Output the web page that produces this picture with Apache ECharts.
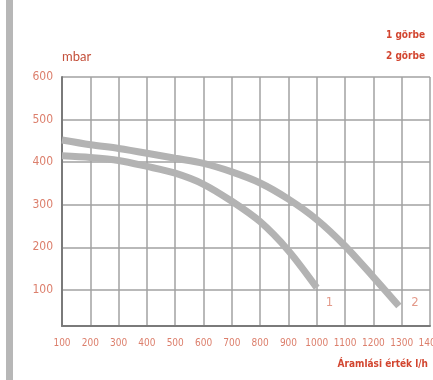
<!DOCTYPE html>
<html>
<head>
<meta charset="utf-8">
<script src="https://cdn.jsdelivr.net/npm/echarts@6/dist/echarts.min.js"></script>
<style>
  html, body { margin: 0; padding: 0; background: #fff; }
  #main { width: 433px; height: 380px; }
</style>
</head>
<body>
<div id="main"></div>
<script>
// adatok (értékek)
var flow1 = [100, 200, 300, 400, 500, 600, 700, 800, 900, 1000];
var press1 = [415, 411, 404, 390, 374, 348, 308, 260, 192, 105];
var flow2 = [100, 200, 300, 400, 500, 600, 700, 800, 900, 1000, 1100, 1200, 1290];
var press2 = [452, 441, 432, 421, 409, 397, 377, 351, 313, 265, 203, 130, 62];
var yTicks = [100, 200, 300, 400, 500, 600];
var curveNames = ['1 görbe', '2 görbe'];
var curveTags = [['1', 1045, 70], ['2', 1347, 70]];

var red = '#d2452f';
var salmon = '#dc7f6c';
var narrow = '"Liberation Sans Narrow", "DejaVu Sans Condensed", sans-serif';

function pairs(xs, ys) {
    return xs.map(function (x, i) { return [x, ys[i]]; });
}

var myChart = echarts.init(document.getElementById('main'));
var option = {
    animation: false,
    grid: { left: 62, right: 3, top: 77, bottom: 54, outerBoundsMode: 'none', containLabel: false },
    graphic: [{
        type: 'rect',
        shape: { x: 6, y: 0, width: 7, height: 380 },
        style: { fill: '#b7b7b7' }
    }],
    legend: {
        data: curveNames,
        orient: 'vertical',
        right: 3,
        top: 25,
        itemGap: 11,
        icon: 'none',
        itemWidth: 0,
        itemHeight: 0,
        textStyle: { color: red, fontSize: 10, fontWeight: 'bold', fontFamily: narrow }
    },
    xAxis: {
        type: 'value',
        min: 100,
        max: 1400,
        interval: 100,
        name: 'Áramlási érték l/h',
        nameLocation: 'end',
        nameGap: -2,
        nameTextStyle: {
            color: red, fontSize: 10, fontWeight: 'bold', fontFamily: narrow,
            align: 'right', verticalAlign: 'top', padding: [33, 0, 0, 0]
        },
        axisLine: { lineStyle: { color: '#7a7a7a', width: 2 } },
        axisTick: { show: false },
        axisLabel: {
            color: salmon, fontSize: 10, fontFamily: narrow, margin: 12,
            interval: 0, hideOverlap: false,
            formatter: function (v) { return String(v); }
        },
        splitLine: { lineStyle: { color: '#a2a2a2', width: 1.5 } }
    },
    yAxis: {
        type: 'value',
        min: 15,
        max: 600,
        name: 'mbar',
        nameLocation: 'end',
        nameGap: 14,
        nameTextStyle: { color: '#c4513c', fontSize: 13, align: 'left', fontFamily: 'Lato, sans-serif' },
        axisLine: { show: true, lineStyle: { color: '#7a7a7a', width: 2 } },
        axisTick: { show: false, customValues: yTicks },
        axisLabel: { color: salmon, fontSize: 12, fontFamily: narrow, margin: 9, customValues: yTicks },
        splitLine: { lineStyle: { color: '#a2a2a2', width: 1.5 } }
    },
    series: [{
        name: curveNames[0],
        type: 'line',
        smooth: 0.3,
        symbol: 'none',
        data: pairs(flow1, press1),
        lineStyle: { color: '#b3b3b3', width: 7 },
        itemStyle: { color: '#b3b3b3' }
    }, {
        name: curveNames[1],
        type: 'line',
        smooth: 0.3,
        symbol: 'none',
        data: pairs(flow2, press2),
        lineStyle: { color: '#b3b3b3', width: 7 },
        itemStyle: { color: '#b3b3b3' }
    }, {
        type: 'scatter',
        symbolSize: 0,
        silent: true,
        data: curveTags.map(function (t) { return { name: t[0], value: [t[1], t[2]] }; }),
        label: {
            show: true,
            position: 'inside',
            formatter: '{b}',
            color: salmon,
            fontSize: 13,
            fontFamily: narrow
        }
    }]
};
myChart.setOption(option, true);
window.addEventListener('resize', function () {
    myChart.resize();
});
</script>
</body>
</html>
